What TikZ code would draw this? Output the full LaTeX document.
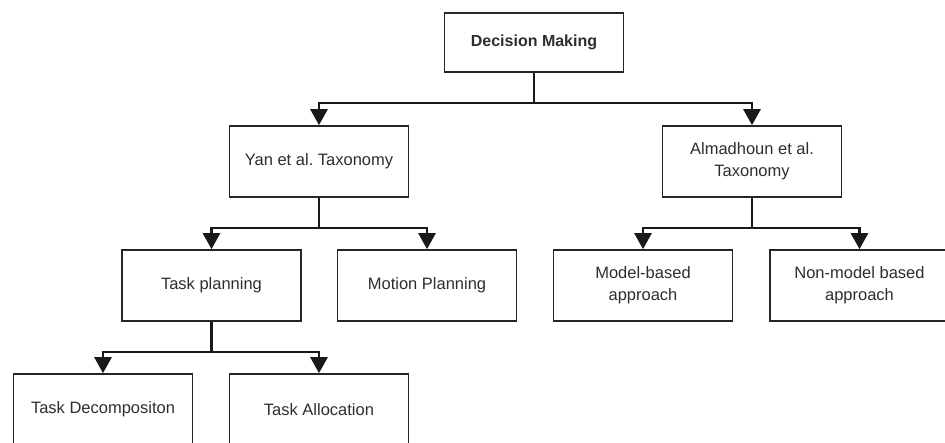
\documentclass[tikz,border=0pt]{standalone}
\usepackage{fontspec}
\setmainfont{Liberation Sans}
\usetikzlibrary{arrows.meta}
\frenchspacing
\begin{document}
\begin{tikzpicture}[x=1pt,y=-1pt,
  box/.style={draw=black!85, line width=1.6pt, fill=white, minimum width=179pt,
    minimum height=71pt, inner sep=0pt, align=center, text=black!82,
    font=\fontsize{16.5}{22}\selectfont},
  link/.style={line width=2.6pt, draw=black!90,
    -{Triangle[width=17pt,length=16pt]}}]
  \useasboundingbox (0,0) rectangle (945,443);

  % nodes of the taxonomy tree
  \node[box, minimum height=59pt, font=\fontsize{16}{20}\selectfont\bfseries] (dm) at (534,42.5) {Decision Making};
  \node[box] (yan) at (319,161.5) {Yan et al. Taxonomy};
  \node[box] (alm) at (752,161.5) {Almadhoun et al.\\Taxonomy};
  \node[box] (tp) at (211.5,285.5) {Task planning};
  \node[box] (mp) at (427,285.5) {Motion Planning};
  \node[box] (mb) at (643,285.5) {Model-based\\approach};
  \node[box] (nm) at (859.5,285.5) {Non-model based\\approach};
  \node[box] (td) at (103,409.5) {Task Decompositon};
  \node[box] (ta) at (319,409.5) {Task Allocation};

  % orthogonal connectors
  \draw[link] (dm.south) |- (534,103) -| (yan.north);
  \draw[link] (dm.south) |- (534,103) -| (alm.north);
  \draw[link] (yan.south) |- (319,228) -| (tp.north);
  \draw[link] (yan.south) |- (319,228) -| (mp.north);
  \draw[link] (alm.south) |- (752,228) -| (mb.north);
  \draw[link] (alm.south) |- (752,228) -| (nm.north);
  \draw[link] (tp.south) |- (211.5,352) -| (td.north);
  \draw[link] (tp.south) |- (211.5,352) -| (ta.north);
\end{tikzpicture}
\end{document}
